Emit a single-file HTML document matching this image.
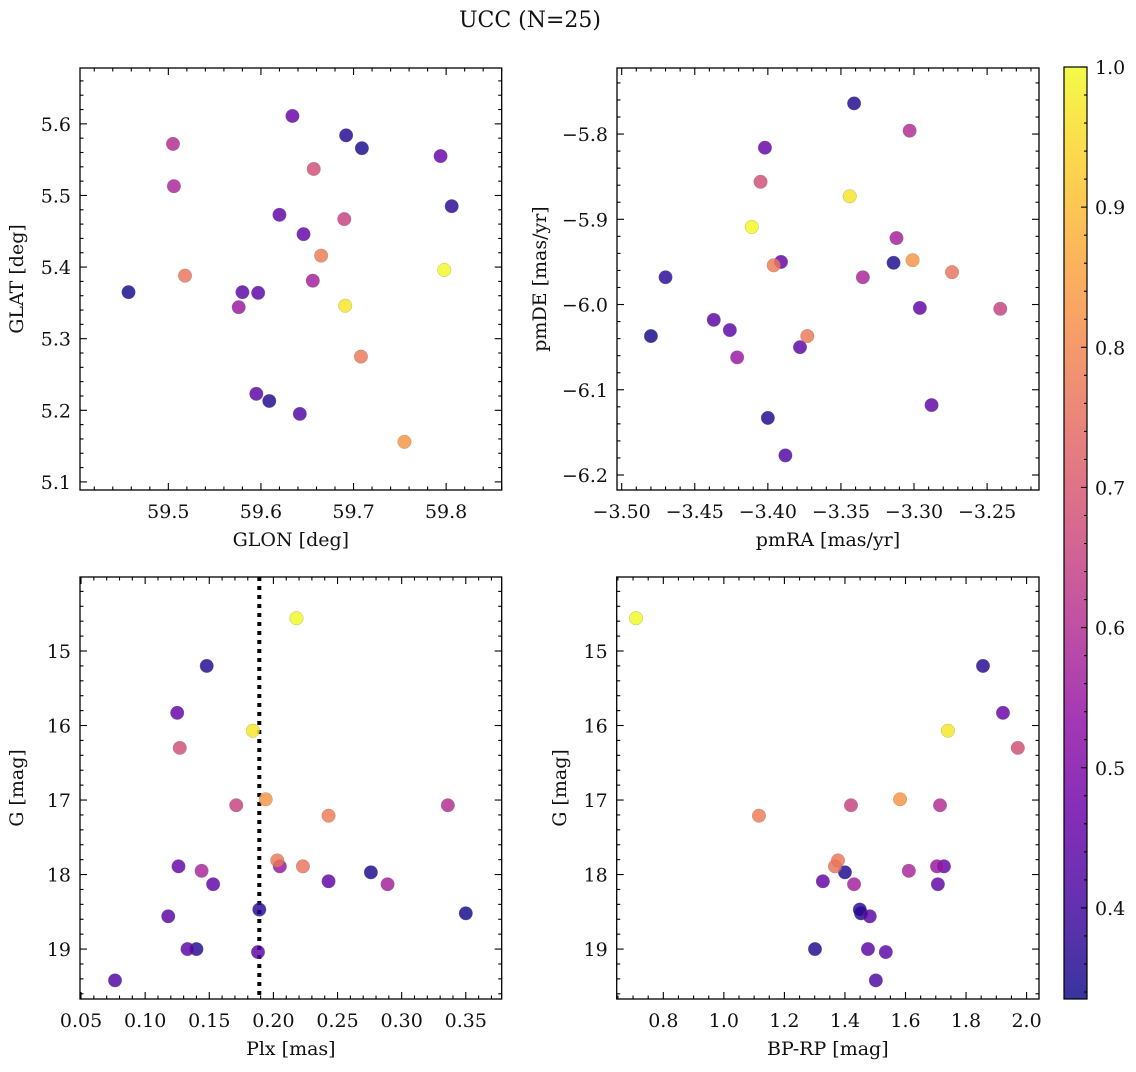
<!DOCTYPE html>
<html><head><meta charset="utf-8"><style>
body{margin:0;background:#fff}
svg text{font-family:"DejaVu Serif","Liberation Serif",serif;fill:#111}
</style></head><body>
<svg id="c" width="1136" height="1067" xmlns="http://www.w3.org/2000/svg">
<defs>
<linearGradient id="plasma" x1="0" y1="1" x2="0" y2="0">
<stop offset="0" stop-color="#0d0887"/><stop offset="0.1" stop-color="#41049d"/><stop offset="0.2" stop-color="#6a00a8"/><stop offset="0.3" stop-color="#8f0da4"/><stop offset="0.4" stop-color="#b12a90"/><stop offset="0.5" stop-color="#cc4778"/><stop offset="0.6" stop-color="#e16462"/><stop offset="0.7" stop-color="#f2844b"/><stop offset="0.8" stop-color="#fca636"/><stop offset="0.9" stop-color="#fcce25"/><stop offset="1" stop-color="#f0f921"/>
</linearGradient>
</defs>
<text x="530" y="27" text-anchor="middle" font-size="22">UCC (N=25)</text>
</svg>
<script>
const probs=[1.0,0.97,0.83,0.78,0.77,0.76,0.68,0.65,0.6,0.58,0.57,0.55,0.46,0.46,0.45,0.45,0.44,0.44,0.44,0.42,0.36,0.35,0.37,0.34,0.36];
const glon=[59.798,59.691,59.755,59.665,59.708,59.518,59.657,59.690,59.505,59.506,59.656,59.576,59.634,59.794,59.620,59.646,59.580,59.597,59.595,59.642,59.692,59.709,59.806,59.457,59.609];
const glat=[5.396,5.346,5.156,5.416,5.275,5.388,5.537,5.467,5.572,5.513,5.381,5.344,5.611,5.555,5.473,5.446,5.365,5.364,5.223,5.195,5.584,5.566,5.485,5.365,5.213];
const pmra=[-3.411,-3.344,-3.301,-3.396,-3.373,-3.274,-3.405,-3.241,-3.303,-3.335,-3.312,-3.421,-3.402,-3.391,-3.288,-3.296,-3.437,-3.426,-3.378,-3.388,-3.341,-3.314,-3.470,-3.480,-3.400];
const pmde=[-5.909,-5.873,-5.948,-5.954,-6.037,-5.962,-5.856,-6.005,-5.796,-5.968,-5.922,-6.062,-5.816,-5.950,-6.118,-6.004,-6.018,-6.030,-6.050,-6.177,-5.764,-5.951,-5.968,-6.037,-6.133];
const plx=[0.218,0.184,0.194,0.243,0.203,0.223,0.127,0.171,0.336,0.144,0.289,0.205,0.125,0.126,0.153,0.243,0.118,0.133,0.188,0.0765,0.148,0.276,0.189,0.350,0.140];
const gmag=[14.56,16.07,16.99,17.21,17.81,17.89,16.30,17.07,17.07,17.95,18.13,17.89,15.83,17.89,18.13,18.09,18.56,19.0,19.04,19.42,15.2,17.97,18.47,18.52,19.0];
const bprp=[0.710,1.740,1.582,1.116,1.377,1.367,1.971,1.420,1.714,1.611,1.430,1.704,1.922,1.727,1.707,1.327,1.482,1.476,1.535,1.502,1.856,1.400,1.449,1.453,1.301];
const plxMedian=[0.189];
const cbTicks=[0.4,0.5,0.6,0.7,0.8,0.9,1.0];

const NS='http://www.w3.org/2000/svg';
const svg=document.getElementById('c');
function mk(t,a,p){const e=document.createElementNS(NS,t);for(const k in a)e.setAttribute(k,a[k]);(p||svg).appendChild(e);return e;}
const stops=[[13,8,135],[65,4,157],[106,0,168],[143,13,164],[177,42,144],[204,71,120],[225,100,98],[242,132,75],[252,166,54],[252,206,37],[240,249,33]];
const PMIN=0.335,PMAX=1.0;
function cmap(p){let t=(p-PMIN)/(PMAX-PMIN);t=Math.max(0,Math.min(1,t))*10;const i=Math.min(9,Math.floor(t)),f=t-i;const a=stops[i],b=stops[i+1];return 'rgb('+a.map((v,k)=>Math.round(v+(b[k]-v)*f)).join(',')+')';}
function fmt(v,d){const s=Math.abs(v).toFixed(d);return (v<-1e-9?'\u2212':'')+s;}
const TF=19;

function panel(o){
  const g=mk('g',{});
  
  
  const X=v=>o.x0+(v-o.xmin)/(o.xmax-o.xmin)*(o.x1-o.x0);
  const Y=o.inv?v=>o.y0+(v-o.ymin)/(o.ymax-o.ymin)*(o.y1-o.y0):v=>o.y1-(v-o.ymin)/(o.ymax-o.ymin)*(o.y1-o.y0);
  const eps=1e-9;
  for(let v=Math.ceil(o.xmin/o.xminor-eps)*o.xminor;v<=o.xmax+eps;v+=o.xminor){
    const maj=Math.abs(v/o.xmajor-Math.round(v/o.xmajor))<1e-4,L=maj?7:3.5,px=X(v);
    mk('line',{x1:px,x2:px,y1:o.y1,y2:o.y1-L,stroke:'#000','stroke-width':1.1},g);
    mk('line',{x1:px,x2:px,y1:o.y0,y2:o.y0+L,stroke:'#000','stroke-width':1.1},g);
    if(maj){const t=mk('text',{x:px,y:o.y1+28,'text-anchor':'middle','font-size':TF},g);t.textContent=fmt(Math.round(v/o.xmajor)*o.xmajor,o.xd);
      }
  }
  for(let v=Math.ceil(o.ymin/o.yminor-eps)*o.yminor;v<=o.ymax+eps;v+=o.yminor){
    const maj=Math.abs(v/o.ymajor-Math.round(v/o.ymajor))<1e-4,L=maj?7:3.5,py=Y(v);
    mk('line',{x1:o.x0,x2:o.x0+L,y1:py,y2:py,stroke:'#000','stroke-width':1.1},g);
    mk('line',{x1:o.x1,x2:o.x1-L,y1:py,y2:py,stroke:'#000','stroke-width':1.1},g);
    if(maj){const t=mk('text',{x:o.x0-9,y:py+7,'text-anchor':'end','font-size':TF},g);t.textContent=fmt(Math.round(v/o.ymajor)*o.ymajor,o.yd);
      }
  }
  if(o.vline){o.vline.forEach(v=>{const l=mk('line',{x1:X(v),x2:X(v),y1:o.y0,y2:o.y1,stroke:'#000','stroke-width':4,'stroke-dasharray':'4 5'},g);
    });}
  const idx=probs.map((p,i)=>i).sort((a,b)=>probs[a]-probs[b]);
  idx.forEach(i=>{
    const c=mk('circle',{cx:X(o.xs[i]),cy:Y(o.ys[i]),r:6.8,fill:cmap(probs[i]),'fill-opacity':0.82,stroke:'#777','stroke-width':0.4,'stroke-opacity':0.6},g);
    
    
  });
  const f=mk('rect',{x:o.x0,y:o.y0,width:o.x1-o.x0,height:o.y1-o.y0,fill:'none',stroke:'#000','stroke-width':1.3},g);
  
  const xl=mk('text',{x:(o.x0+o.x1)/2,y:o.y1+56,'text-anchor':'middle','font-size':TF},g);xl.textContent=o.xlabel;
  
  const yx=o.ylx,yy=(o.y0+o.y1)/2;
  const yl=mk('text',{x:yx,y:yy,'text-anchor':'middle','font-size':TF,transform:'rotate(-90 '+yx+' '+yy+')'},g);yl.textContent=o.ylabel;
  
}
panel({name:'glon-glat-panel',x0:80,x1:501.7,y0:68,y1:490,xmin:59.4046,xmax:59.860,ymin:5.0887,ymax:5.678,inv:false,
  xmajor:0.1,xminor:0.02,ymajor:0.1,yminor:0.02,xd:1,yd:1,xs:glon,ys:glat,xlabel:'GLON [deg]',ylabel:'GLAT [deg]',ylx:23});
panel({name:'proper-motion-panel',x0:617,x1:1039,y0:68,y1:490,xmin:-3.5032,xmax:-3.2145,ymin:-6.2176,ymax:-5.7225,inv:false,
  xmajor:0.05,xminor:0.01,ymajor:0.1,yminor:0.02,xd:2,yd:1,xs:pmra,ys:pmde,xlabel:'pmRA [mas/yr]',ylabel:'pmDE [mas/yr]',ylx:546});
panel({name:'plx-g-panel',x0:80,x1:501.7,y0:577,y1:999,xmin:0.0492,xmax:0.378,ymin:14.007,ymax:19.67,inv:true,
  xmajor:0.05,xminor:0.01,ymajor:1,yminor:0.2,xd:2,yd:0,xs:plx,ys:gmag,xlabel:'Plx [mas]',ylabel:'G [mag]',ylx:23,vline:plxMedian});
panel({name:'cmd-panel',x0:616.7,x1:1039,y0:577,y1:999,xmin:0.646,xmax:2.041,ymin:14.007,ymax:19.67,inv:true,
  xmajor:0.2,xminor:0.05,ymajor:1,yminor:0.2,xd:1,yd:0,xs:bprp,ys:gmag,xlabel:'BP-RP [mag]',ylabel:'G [mag]',ylx:566});

const cb=mk('g',{});


const cx0=1064,cx1=1087,cy0=67,cy1=999;
mk('rect',{x:cx0,y:cy0,width:cx1-cx0,height:cy1-cy0,fill:'url(#plasma)','fill-opacity':0.82},cb);
mk('rect',{x:cx0,y:cy0,width:cx1-cx0,height:cy1-cy0,fill:'none',stroke:'#000','stroke-width':1.2},cb);
const CY=v=>cy1-(v-PMIN)/(PMAX-PMIN)*(cy1-cy0);
for(let v=0.34;v<=1.0001;v+=0.02){
  const maj=Math.abs(v*10-Math.round(v*10))<1e-4,py=CY(v);
  mk('line',{x1:cx1,x2:cx1-(maj?6:3),y1:py,y2:py,stroke:'#000','stroke-width':1.1},cb);
}
cbTicks.forEach(v=>{const t=mk('text',{x:1095,y:CY(v)+7,'font-size':TF},cb);t.textContent=v.toFixed(1);
  });
</script>
</body></html>
